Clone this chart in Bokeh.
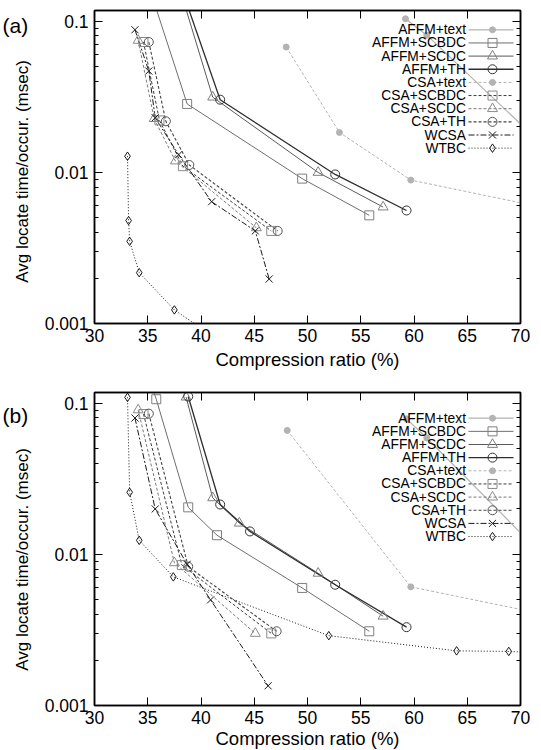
import math
from bokeh.plotting import figure
from bokeh.models import (Range1d, LinearAxis, LogAxis, FixedTicker,
                          CustomJSTickFormatter, Label, LinearScale)
from bokeh.layouts import column, row
from bokeh.embed import file_html
from bokeh.resources import INLINE

FONT = "Liberation Sans"

series_names = ["AFFM+text", "AFFM+SCBDC", "AFFM+SCDC", "AFFM+TH", "CSA+text",
                "CSA+SCBDC", "CSA+SCDC", "CSA+TH", "WCSA", "WTBC"]
x_ticks = [30, 35, 40, 45, 50, 55, 60, 65, 70]
y_ticks = [0.001, 0.01, 0.1]
y_tick_labels = ["0.001", "0.01", "0.1"]
y_minor = [0.002, 0.003, 0.004, 0.005, 0.006, 0.007, 0.008, 0.009,
           0.02, 0.03, 0.04, 0.05, 0.06, 0.07, 0.08, 0.09]
x_title = "Compression ratio (%)"
y_title = "Avg locate time/occur. (msec)"
panel_tags = ["(a)", "(b)"]

# ---------------- panel (a) ----------------
a_affm_text_x = [59.2, 61.2, 73.0]
a_affm_text_y = [0.104, 0.081, 0.0132]
a_affm_scbdc_x = [35.0, 38.7, 49.5, 55.8]
a_affm_scbdc_y = [0.18, 0.0284, 0.0091, 0.0052]
a_affm_scdc_x = [38.0, 41.1, 51.0, 57.1]
a_affm_scdc_y = [0.165, 0.0315, 0.0100, 0.0059]
a_affm_th_x = [38.2, 41.8, 52.6, 59.3]
a_affm_th_y = [0.163, 0.0303, 0.0097, 0.0056]
a_csa_text_x = [48.0, 53.0, 59.7, 80.0]
a_csa_text_y = [0.0676, 0.0184, 0.0089, 0.0045]
a_csa_scbdc_x = [34.6, 36.1, 38.3, 46.6]
a_csa_scbdc_y = [0.073, 0.0221, 0.0110, 0.0041]
a_csa_scdc_x = [34.1, 35.6, 37.6, 45.2]
a_csa_scdc_y = [0.0748, 0.0227, 0.0119, 0.0043]
a_csa_th_x = [35.1, 36.7, 38.9, 47.2]
a_csa_th_y = [0.073, 0.0218, 0.0112, 0.0041]
a_wcsa_x = [33.8, 35.1, 35.7, 37.9, 41.0, 45.1, 46.4]
a_wcsa_y = [0.088, 0.0469, 0.0230, 0.0131, 0.0064, 0.0041, 0.00197]
a_wtbc_x = [33.1, 33.2, 33.3, 34.2, 37.5, 42.0]
a_wtbc_y = [0.0128, 0.0048, 0.0035, 0.00217, 0.00123, 0.00075]

# ---------------- panel (b) ----------------
b_affm_text_x = [59.3, 61.2, 73.0]
b_affm_text_y = [0.079, 0.059, 0.0085]
b_affm_scbdc_x = [35.2, 35.8, 38.8, 41.5, 49.5, 55.8]
b_affm_scbdc_y = [0.14, 0.1065, 0.0205, 0.0134, 0.0060, 0.0031]
b_affm_scdc_x = [38.6, 41.1, 43.6, 51.0, 57.1]
b_affm_scdc_y = [0.110, 0.0237, 0.0161, 0.0075, 0.0039]
b_affm_th_x = [38.8, 41.8, 44.6, 52.6, 59.3]
b_affm_th_y = [0.111, 0.0214, 0.0142, 0.0063, 0.0033]
b_csa_text_x = [48.1, 59.7, 80.0]
b_csa_text_y = [0.0662, 0.0061, 0.0031]
b_csa_scbdc_x = [34.6, 38.2, 46.6]
b_csa_scbdc_y = [0.085, 0.0085, 0.0030]
b_csa_scdc_x = [34.1, 37.5, 45.1]
b_csa_scdc_y = [0.0905, 0.0088, 0.0030]
b_csa_th_x = [35.1, 38.8, 47.1]
b_csa_th_y = [0.0855, 0.0083, 0.0031]
b_wcsa_x = [33.8, 35.7, 38.7, 40.9, 46.3]
b_wcsa_y = [0.080, 0.0200, 0.0086, 0.0050, 0.00135]
b_wtbc_x = [33.1, 33.3, 34.2, 37.4, 52.0, 64.0, 68.9, 74.0]
b_wtbc_y = [0.1096, 0.0258, 0.0124, 0.0071, 0.0029, 0.0023, 0.00228, 0.0022]

data_a = dict(zip(series_names, [
    (a_affm_text_x, a_affm_text_y), (a_affm_scbdc_x, a_affm_scbdc_y),
    (a_affm_scdc_x, a_affm_scdc_y), (a_affm_th_x, a_affm_th_y),
    (a_csa_text_x, a_csa_text_y), (a_csa_scbdc_x, a_csa_scbdc_y),
    (a_csa_scdc_x, a_csa_scdc_y), (a_csa_th_x, a_csa_th_y),
    (a_wcsa_x, a_wcsa_y), (a_wtbc_x, a_wtbc_y)]))
data_b = dict(zip(series_names, [
    (b_affm_text_x, b_affm_text_y), (b_affm_scbdc_x, b_affm_scbdc_y),
    (b_affm_scdc_x, b_affm_scdc_y), (b_affm_th_x, b_affm_th_y),
    (b_csa_text_x, b_csa_text_y), (b_csa_scbdc_x, b_csa_scbdc_y),
    (b_csa_scdc_x, b_csa_scdc_y), (b_csa_th_x, b_csa_th_y),
    (b_wcsa_x, b_wcsa_y), (b_wtbc_x, b_wtbc_y)]))

styles = {
    "AFFM+text":  dict(color="#b3b3b3", dash="solid", lw=1.2, marker="circle", mc="#b3b3b3", ms=6, filled=True),
    "AFFM+SCBDC": dict(color="#6e6e6e", dash="solid", lw=1.0, marker="square", mc="#7f7f7f", ms=9, filled=False),
    "AFFM+SCDC":  dict(color="#5a5a5a", dash="solid", lw=1.0, marker="triangle", mc="#7f7f7f", ms=10, filled=False),
    "AFFM+TH":    dict(color="#2e2e2e", dash="solid", lw=1.3, marker="circle", mc="#333333", ms=9, filled=False),
    "CSA+text":   dict(color="#b3b3b3", dash="3 2", lw=1.0, marker="circle", mc="#b3b3b3", ms=6, filled=True),
    "CSA+SCBDC":  dict(color="#3c3c3c", dash="3 2", lw=1.0, marker="square", mc="#8a8a8a", ms=9, filled=False),
    "CSA+SCDC":   dict(color="#7a7a7a", dash="3 2", lw=1.0, marker="triangle", mc="#8a8a8a", ms=10, filled=False),
    "CSA+TH":     dict(color="#444444", dash="3 2", lw=1.1, marker="circle", mc="#555555", ms=9, filled=False),
    "WCSA":       dict(color="#1a1a1a", dash="6 2 2 2", lw=1.0, marker="x", mc="#1a1a1a", ms=10, filled=False),
    "WTBC":       dict(color="#1a1a1a", dash="1 2", lw=1.0, marker="diamond", mc="#1a1a1a", ms=8.5, filled=False),
}

SW = 34            # side strip holding the panel tag and the y title
FW, FH = 426, 313  # plot frame
BL, BR = 60, 21
LEG_STEP = 13.15


def style_axis(ax, show_labels):
    ax.axis_line_color = "black"
    ax.axis_line_width = 1.5
    ax.major_tick_in = 8
    ax.major_tick_out = 0
    ax.minor_tick_in = 4
    ax.minor_tick_out = 0
    ax.major_tick_line_color = "black"
    ax.minor_tick_line_color = "black"
    ax.major_label_text_font = FONT
    ax.major_label_text_color = "black"
    if show_labels:
        ax.major_label_text_font_size = "17.5px"
    else:
        ax.major_label_text_font_size = "0px"
        ax.major_label_standoff = 0


def make_side(height, tag, tag_from_top, title_from_top):
    s = figure(width=SW, height=height, frame_width=SW, frame_height=height,
               x_range=Range1d(0, SW), y_range=Range1d(0, height),
               min_border_left=0, min_border_right=0, min_border_top=0, min_border_bottom=0,
               x_axis_location=None, y_axis_location=None,
               output_backend="svg", toolbar_location=None,
               background_fill_color="white", border_fill_color="white")
    s.outline_line_color = None
    s.xgrid.visible = False
    s.ygrid.visible = False
    s.add_layout(Label(x=2, y=height - tag_from_top, x_units="screen", y_units="screen",
                       text=tag, text_align="left", text_baseline="middle",
                       text_font=FONT, text_font_size="21px", text_color="black"))
    s.add_layout(Label(x=22.4, y=height - title_from_top, x_units="screen", y_units="screen",
                       text=y_title, angle=math.pi / 2, text_align="center",
                       text_baseline="middle", text_font=FONT, text_font_size="17px",
                       text_color="black"))
    return s


def make_panel(data, b_top, b_bottom, leg_top, title_standoff):
    p = figure(width=BL + FW + BR, height=b_top + FH + b_bottom,
               frame_width=FW, frame_height=FH,
               x_range=Range1d(30, 70), y_range=Range1d(0.001, 0.118),
               y_axis_type="log", min_border_left=BL, min_border_right=BR,
               min_border_top=b_top, min_border_bottom=b_bottom,
               output_backend="svg", toolbar_location=None,
               background_fill_color="white", border_fill_color="white")
    p.xgrid.visible = False
    p.ygrid.visible = False
    p.outline_line_color = "black"
    p.outline_line_width = 1.5

    xa = p.xaxis[0]
    ya = p.yaxis[0]
    xa.ticker = FixedTicker(ticks=x_ticks)
    ya.ticker = FixedTicker(ticks=y_ticks, minor_ticks=y_minor)
    ya.formatter = CustomJSTickFormatter(
        args=dict(vals=y_ticks, labs=y_tick_labels),
        code="for (let i = 0; i < vals.length; i++) { if (Math.abs(tick / vals[i] - 1) < 1e-6) return labs[i]; } return '';")
    top = LinearAxis(ticker=FixedTicker(ticks=x_ticks),
                     formatter=CustomJSTickFormatter(code="return '';"))
    right = LogAxis(ticker=FixedTicker(ticks=y_ticks, minor_ticks=y_minor),
                    formatter=CustomJSTickFormatter(code="return '';"))
    p.add_layout(top, "above")
    p.add_layout(right, "right")
    style_axis(xa, True)
    style_axis(ya, True)
    style_axis(top, False)
    style_axis(right, False)
    xa.major_label_standoff = 5
    ya.major_label_standoff = 6

    xa.axis_label = x_title
    xa.axis_label_text_font = FONT
    xa.axis_label_text_font_size = "18.5px"
    xa.axis_label_text_font_style = "normal"
    xa.axis_label_text_color = "black"
    xa.axis_label_standoff = title_standoff

    # data series
    for name in series_names:
        xs, ys = data[name]
        s = styles[name]
        p.line(xs, ys, line_color=s["color"], line_width=s["lw"], line_dash=s["dash"])
    for name in series_names:
        xs, ys = data[name]
        s = styles[name]
        p.scatter(xs, ys, marker=s["marker"], size=s["ms"], line_color=s["mc"],
                  line_width=1.0, fill_color=s["mc"] if s["filled"] else None)

    # gnuplot-style key (text right-aligned, sample on the right)
    p.extra_x_ranges = {"lg": Range1d(0, FW)}
    p.extra_y_ranges = {"lg": Range1d(0, FH)}
    p.extra_x_scales = {"lg": LinearScale()}
    p.extra_y_scales = {"lg": LinearScale()}
    for i, name in enumerate(series_names):
        s = styles[name]
        yy = FH - leg_top - i * LEG_STEP
        p.line([FW - 52, FW - 7], [yy, yy], x_range_name="lg", y_range_name="lg",
               line_color=s["color"], line_width=s["lw"], line_dash=s["dash"])
        p.scatter([FW - 28], [yy], x_range_name="lg", y_range_name="lg",
                  marker=s["marker"], size=s["ms"], line_color=s["mc"], line_width=1.0,
                  fill_color=s["mc"] if s["filled"] else None)
        p.add_layout(Label(x=FW - 54.5, y=yy, x_units="screen", y_units="screen",
                           text=name, text_align="right", text_baseline="middle",
                           text_font=FONT, text_font_size="13.8px", text_color="black"))
    return p


HA = 10 + FH + 48
HB = 20 + FH + 45
pa = make_panel(data_a, 10, 48, 19.3, 4)
pb = make_panel(data_b, 20, 45, 25.7, 1)
sa = make_side(HA, panel_tags[0], 14.7, 161)
sb = make_side(HB, panel_tags[1], 22.7, 167)

layout = column(row(sa, pa), row(sb, pb))
open("out.html", "w").write(file_html(layout, INLINE))
